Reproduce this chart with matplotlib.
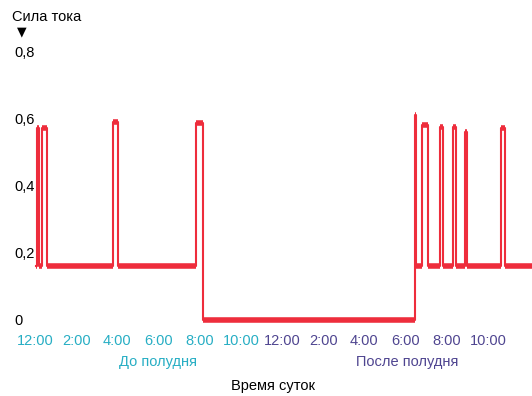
import matplotlib
matplotlib.use('Agg')
import matplotlib.pyplot as plt

plt.rcParams['font.family'] = ['Liberation Sans', 'DejaVu Sans']

# time in hours after 12:00 (midnight), current in relative units
hours = [0.05, 0.10, 0.10, 0.19, 0.19, 0.34, 0.34, 0.58, 0.58,
         3.79, 3.79, 4.03, 4.03,
         7.82, 7.82, 8.16, 8.16,
         18.46, 18.46, 18.50, 18.50,
         18.80, 18.80, 19.09, 19.09,
         19.67, 19.67, 19.82, 19.82,
         20.30, 20.30, 20.45, 20.45,
         20.88, 20.88, 20.98, 20.98,
         22.63, 22.63, 22.83, 22.83, 24.2]
current = [0.16, 0.16, 0.57, 0.57, 0.16, 0.16, 0.57, 0.57, 0.16,
           0.16, 0.59, 0.59, 0.16,
           0.16, 0.585, 0.585, 0.0,
           0.0, 0.61, 0.61, 0.16,
           0.16, 0.58, 0.58, 0.16,
           0.16, 0.575, 0.575, 0.16,
           0.16, 0.575, 0.575, 0.16,
           0.16, 0.56, 0.56, 0.16,
           0.16, 0.57, 0.57, 0.16, 0.16]

tick_hours = [0, 2, 4, 6, 8, 10, 12, 14, 16, 18, 20, 22]
tick_labels = ['12:00', '2:00', '4:00', '6:00', '8:00', '10:00',
               '12:00', '2:00', '4:00', '6:00', '8:00', '10:00']
y_ticks = [0, 0.2, 0.4, 0.6, 0.8]
y_labels = ['0', '0,2', '0,4', '0,6', '0,8']

red = '#ee2d3c'
teal = '#27aec4'
purple = '#4f4590'

fig = plt.figure(figsize=(5.32, 3.96), dpi=100)
ax = fig.add_axes([0, 66 / 396, 1, 290 / 396])

ax.plot(hours, current, color=red, lw=1.5)
# flat parts look thicker in the original
for i in range(len(hours) - 1):
    if current[i] == current[i + 1]:
        ax.plot(hours[i:i + 2], current[i:i + 2], color=red, lw=4,
                solid_capstyle='butt')

ax.set_xlim(-1.70, 24.14)
ax.set_ylim(-0.03, 0.833)

ax.set_xticks(tick_hours)
ax.set_xticklabels(tick_labels, fontsize=10.5)
for i, lab in enumerate(ax.get_xticklabels()):
    lab.set_color(teal if i < 6 else purple)
ax.tick_params(axis='x', length=0, pad=3)

ax.set_yticks(y_ticks)
ax.set_yticklabels(y_labels, fontsize=10.5, ha='left')
ax.tick_params(axis='y', length=0, pad=-10)

for s in ax.spines.values():
    s.set_visible(False)

fig.text(12 / 532, 1 - 17 / 396, 'Сила тока', fontsize=10.5, va='center', ha='left')
fig.text(22 / 532, 1 - 32 / 396, '▼', fontsize=9, va='center', ha='center',
         family='DejaVu Sans')
fig.text(158 / 532, 1 - 362 / 396, 'До полудня', fontsize=10.5, color=teal,
         ha='center', va='center')
fig.text(407 / 532, 1 - 362 / 396, 'После полудня', fontsize=10.5, color=purple,
         ha='center', va='center')
fig.text(273 / 532, 1 - 386 / 396, 'Время суток', fontsize=10.5,
         ha='center', va='center')

fig.savefig('out.png', dpi=100)
